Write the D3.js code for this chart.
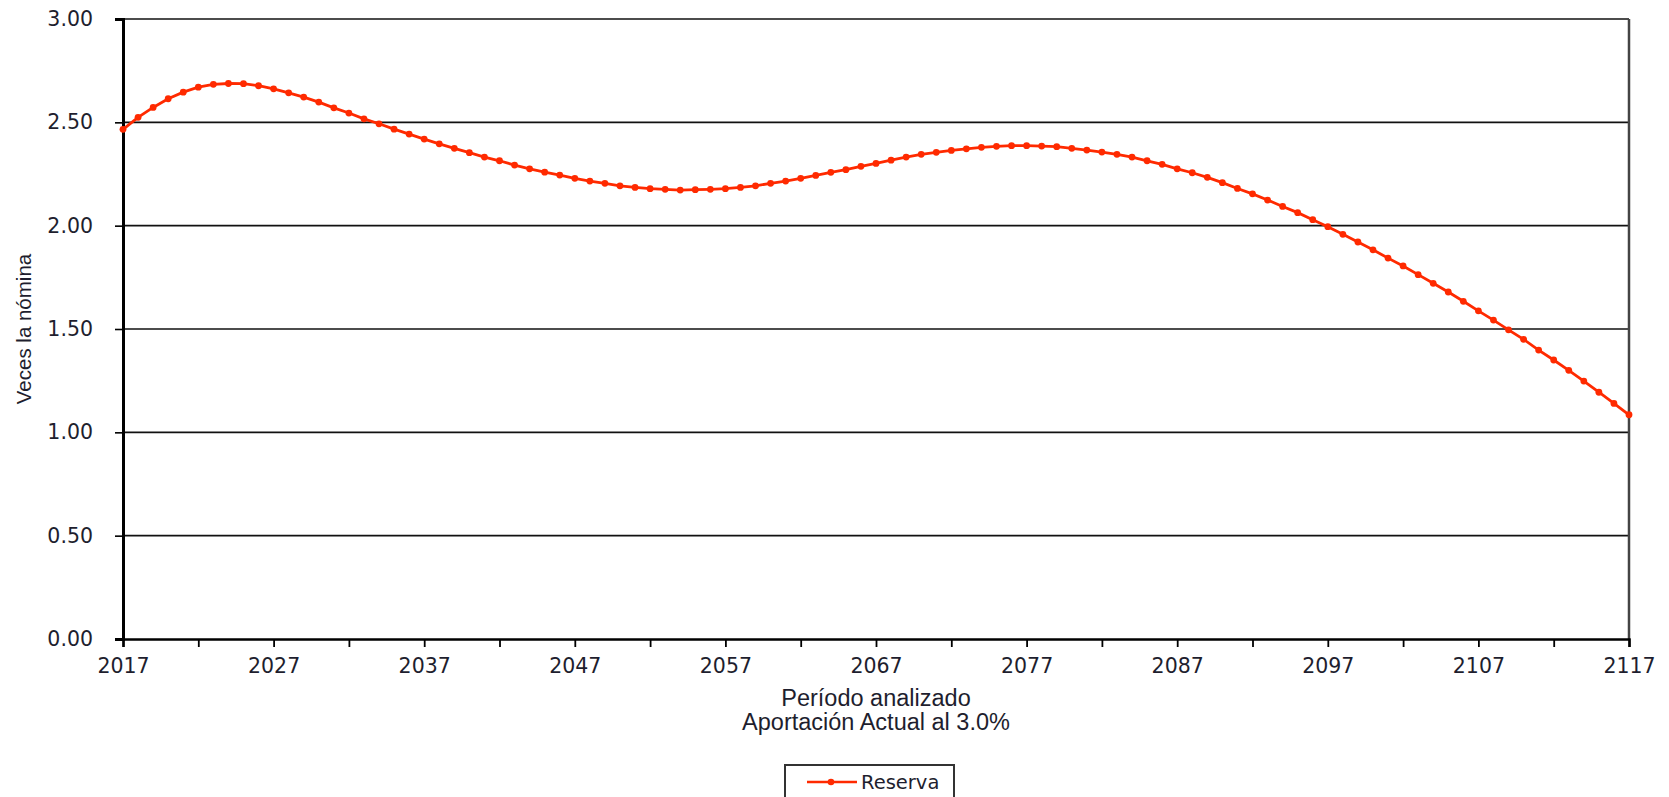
<!DOCTYPE html>
<html>
<head>
<meta charset="utf-8">
<script src="https://cdn.jsdelivr.net/npm/d3@7"></script>
<style>
  html, body { margin: 0; padding: 0; background: #fff; }
  svg { display: block; }
</style>
</head>
<body>
<svg id="chart" width="1669" height="797"></svg>
<script>
// ---- Data ----
const years = d3.range(2017, 2118);
const reserva = [
  2.466, 2.524, 2.572, 2.614, 2.646, 2.670, 2.684, 2.688, 2.687, 2.677,
  2.662, 2.643, 2.622, 2.598, 2.570, 2.545, 2.517, 2.493, 2.467, 2.443,
  2.419, 2.396, 2.374, 2.353, 2.332, 2.314, 2.293, 2.275, 2.259, 2.245,
  2.229, 2.216, 2.205, 2.193, 2.185, 2.179, 2.176, 2.172, 2.174, 2.176,
  2.179, 2.185, 2.193, 2.205, 2.216, 2.229, 2.243, 2.258, 2.271, 2.287,
  2.301, 2.317, 2.332, 2.345, 2.355, 2.364, 2.372, 2.379, 2.384, 2.387,
  2.387, 2.385, 2.382, 2.374, 2.366, 2.356, 2.345, 2.332, 2.314, 2.297,
  2.275, 2.256, 2.234, 2.208, 2.180, 2.154, 2.124, 2.093, 2.063, 2.029,
  1.995, 1.958, 1.921, 1.883, 1.843, 1.805, 1.763, 1.721, 1.679, 1.634,
  1.588, 1.543, 1.496, 1.450, 1.398, 1.350, 1.300, 1.248, 1.194, 1.140,
  1.085
];
const yTicks = [0, 0.5, 1.0, 1.5, 2.0, 2.5, 3.0];
const xTickYears = [2017, 2022, 2027, 2032, 2037, 2042, 2047, 2052, 2057, 2062, 2067,
                    2072, 2077, 2082, 2087, 2092, 2097, 2102, 2107, 2112, 2117];
const xLabelYears = [2017, 2027, 2037, 2047, 2057, 2067, 2077, 2087, 2097, 2107, 2117];
const yAxisTitle = "Veces la nómina";
const xAxisTitle = ["Período analizado", "Aportación Actual al 3.0%"];
const seriesName = "Reserva";

// ---- Layout ----
const svg = d3.select("#chart");
const plotL = 123, plotR = 1629, plotT = 19, plotB = 639;
const lineColor = "#ff2a00";
const textColor = "#1e1e2e";

const x = d3.scaleLinear().domain([2017, 2117]).range([plotL, plotR]);
const y = d3.scaleLinear().domain([0, 3]).range([plotB, plotT]);

// Gridlines
svg.append("g")
  .selectAll("line")
  .data(yTicks.filter(d => d > 0))
  .join("line")
  .attr("x1", plotL).attr("x2", plotR)
  .attr("y1", d => y(d)).attr("y2", d => y(d))
  .attr("stroke", "#111").attr("stroke-width", 1.6);

// Right border
svg.append("line")
  .attr("x1", plotR).attr("x2", plotR)
  .attr("y1", y(3)).attr("y2", y(0))
  .attr("stroke", "#444").attr("stroke-width", 2.5);

// Y axis
const yAxis = d3.axisLeft(y)
  .tickValues(yTicks)
  .tickFormat(d3.format(".2f"))
  .tickSize(8)
  .tickPadding(22);
const gy = svg.append("g").attr("transform", `translate(${plotL},0)`).call(yAxis);
gy.select(".domain").attr("stroke", "#000").attr("stroke-width", 3);
gy.selectAll(".tick line").attr("stroke", "#000").attr("stroke-width", 1.6);
gy.selectAll(".tick text")
  .attr("font-family", "DejaVu Sans, Verdana, sans-serif")
  .attr("font-size", 20.5)
  .attr("fill", textColor);

// X axis
const xAxis = d3.axisBottom(x)
  .tickValues(xTickYears)
  .tickFormat(d => xLabelYears.includes(d) ? String(d) : "")
  .tickSize(8)
  .tickPadding(11);
const gx = svg.append("g").attr("transform", `translate(0,${plotB})`).call(xAxis);
gx.select(".domain").attr("stroke", "#000").attr("stroke-width", 2.5);
gx.selectAll(".tick line").attr("stroke", "#000").attr("stroke-width", 1.8);
gx.selectAll(".tick text")
  .attr("font-family", "DejaVu Sans, Verdana, sans-serif")
  .attr("font-size", 20.5)
  .attr("fill", textColor);

// Line
const data = years.map((yr, i) => ({ yr, v: reserva[i] }));
svg.append("path")
  .datum(data)
  .attr("fill", "none")
  .attr("stroke", lineColor)
  .attr("stroke-width", 2.8)
  .attr("d", d3.line().x(d => x(d.yr)).y(d => y(d.v)));

svg.append("g")
  .selectAll("circle")
  .data(data)
  .join("circle")
  .attr("cx", d => x(d.yr))
  .attr("cy", d => y(d.v))
  .attr("r", 3.4)
  .attr("fill", lineColor);

// Axis titles
svg.append("text")
  .attr("transform", "translate(31,329) rotate(-90)")
  .attr("text-anchor", "middle")
  .attr("font-family", "Liberation Sans, Arial, sans-serif")
  .attr("font-size", 20.5)
  .attr("fill", textColor)
  .text(yAxisTitle);

svg.append("g")
  .selectAll("text")
  .data(xAxisTitle)
  .join("text")
  .attr("x", (plotL + plotR) / 2)
  .attr("y", (d, i) => 706 + i * 24)
  .attr("text-anchor", "middle")
  .attr("font-family", "Liberation Sans, Arial, sans-serif")
  .attr("font-size", 23.5)
  .attr("fill", textColor)
  .text(d => d);

// Legend
const lg = svg.append("g");
lg.append("rect")
  .attr("x", 785).attr("y", 765)
  .attr("width", 169).attr("height", 60)
  .attr("fill", "#fff")
  .attr("stroke", "#333").attr("stroke-width", 2);
lg.append("line")
  .attr("x1", 807).attr("x2", 857)
  .attr("y1", 782).attr("y2", 782)
  .attr("stroke", lineColor).attr("stroke-width", 2.6);
lg.append("circle")
  .attr("cx", 831).attr("cy", 782).attr("r", 3.3)
  .attr("fill", lineColor);
lg.append("text")
  .attr("x", 861).attr("y", 789)
  .attr("font-family", "DejaVu Sans, Verdana, sans-serif")
  .attr("font-size", 19.5)
  .attr("fill", textColor)
  .text(seriesName);
</script>
</body>
</html>
